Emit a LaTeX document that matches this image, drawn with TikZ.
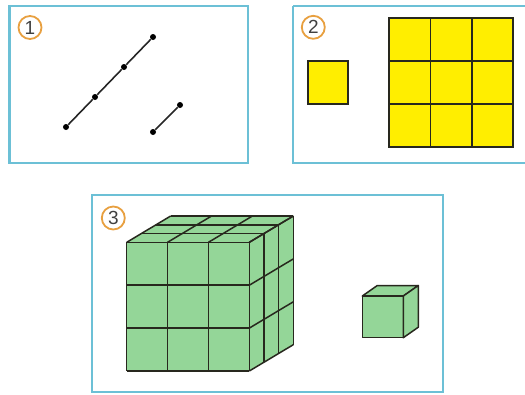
\documentclass[tikz,border=0pt]{standalone}
\usepackage{fontspec}
\setmainfont{Liberation Sans}
\usetikzlibrary{positioning}
\definecolor{frameblue}{RGB}{108,192,214}
\definecolor{numorange}{RGB}{232,160,64}
\definecolor{cubegreen}{RGB}{148,214,152}
\definecolor{tileyellow}{RGB}{255,238,0}
\definecolor{edgedark}{RGB}{40,40,30}

\begin{document}
\begin{tikzpicture}[
  x=1pt, y=-1pt,
  panel/.style={draw=frameblue, line width=2.2pt},
  num/.style={circle, draw=numorange, line width=1.8pt, fill=white, minimum size=23pt, inner sep=0pt, text=black!75, font=\fontsize{19}{19}\selectfont},
  dot/.style={circle, fill=black, inner sep=0pt, minimum size=6pt},
  seg/.style={line width=1.6pt, black!85},
  tile/.style={draw=edgedark, line width=1.7pt, fill=tileyellow},
  cubeline/.style={draw=edgedark, line width=1.5pt, line join=round},
]
\useasboundingbox (0,0) rectangle (525,394);

% panel 1: segments
\draw[panel] (9.5,6) rectangle (248,163);
\node[num] (n1) at (30,27.5) {1};
\node[dot] (p1) at (66,127) {};
\node[dot] (p2) at (95,97) {};
\node[dot] (p3) at (124,67) {};
\node[dot] (p4) at (153,37) {};
\node[dot] (q1) at (153,132) {};
\node[dot] (q2) at (180,105) {};
\draw[seg] (p1) -- (p2) -- (p3) -- (p4);
\draw[seg] (q1) -- (q2);

% panel 2: squares
\draw[panel] (293.3,6) -- (526,6) (293.3,6) -- (293.3,163.3) -- (526,163.3);
\node[num] (n2) at (313.3,27.3) {2};
\draw[tile] (307.7,61) rectangle (348.3,104.3);
\foreach \i in {0,1,2} {
  \foreach \j in {0,1,2} {
    \draw[tile] ({389.3+41.33*\i},{18.3+42.8*\j}) rectangle ({389.3+41.33*(\i+1)},{18.3+42.8*(\j+1)});
  }
}

% panel 3: cubes
\draw[panel] (92.3,195) rectangle (442.7,392.3);
\node[num] (n3) at (113.3,218) {3};
\begin{scope}[shift={(126.7pt,-242.3pt)}, x={(40.87pt,0pt)}, y={(0pt,-42.9pt)}, z={(14.67pt,8.77pt)}]
  \fill[cubegreen] (0,0,0) -- (3,0,0) -- (3,0,3) -- (0,0,3) -- cycle;
  \fill[cubegreen] (0,0,0) -- (3,0,0) -- (3,3,0) -- (0,3,0) -- cycle;
  \fill[cubegreen] (3,0,0) -- (3,3,0) -- (3,3,3) -- (3,0,3) -- cycle;
  \foreach \i in {0,...,3} {
    \draw[cubeline] (\i,0,0) -- (\i,3,0);
    \draw[cubeline] (0,\i,0) -- (3,\i,0);
    \draw[cubeline] (\i,0,0) -- (\i,0,3);
    \draw[cubeline] (0,0,\i) -- (3,0,\i);
    \draw[cubeline] (3,\i,0) -- (3,\i,3);
    \draw[cubeline] (3,0,\i) -- (3,3,\i);
  }
\end{scope}
\begin{scope}[shift={(362.3pt,-296pt)}, x={(41pt,0pt)}, y={(0pt,-41.7pt)}, z={(15pt,10.5pt)}]
  \filldraw[cubegreen, cubeline] (0,0,0) -- (1,0,0) -- (1,0,1) -- (0,0,1) -- cycle;
  \filldraw[cubegreen, cubeline] (0,0,0) -- (1,0,0) -- (1,1,0) -- (0,1,0) -- cycle;
  \filldraw[cubegreen, cubeline] (1,0,0) -- (1,1,0) -- (1,1,1) -- (1,0,1) -- cycle;
\end{scope}
\end{tikzpicture}
\end{document}
